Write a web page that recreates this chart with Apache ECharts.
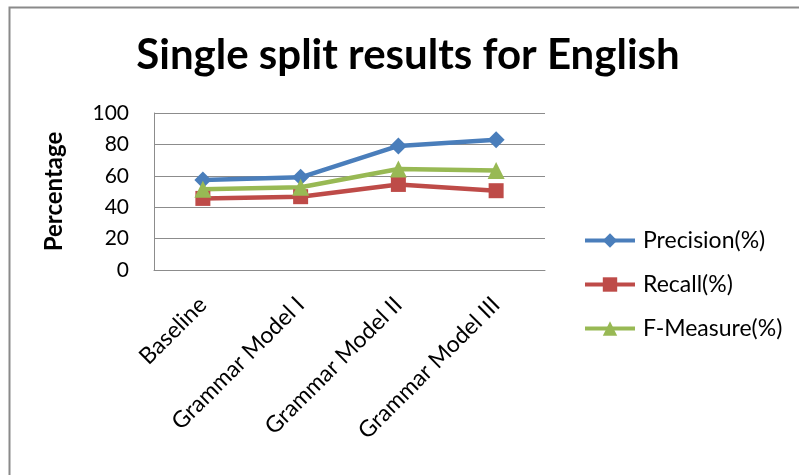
<!DOCTYPE html>
<html>
<head>
<meta charset="utf-8">
<script src="https://cdn.jsdelivr.net/npm/echarts@6/dist/echarts.min.js"></script>
<style>
  html, body { margin: 0; padding: 0; background: #fff; }
  #chart { width: 799px; height: 475px; }
</style>
</head>
<body>
<div id="chart"></div>
<script>
// Model variants on the x axis
const categories = ['Baseline', 'Grammar Model I', 'Grammar Model II', 'Grammar Model III'];

// Scores per model (%)
const precision = [57.3, 59, 79, 83];
const recall = [45.6, 46.7, 54.5, 50.5];
const fMeasure = [51.4, 52.7, 64.3, 63.4];

// Value axis ticks
const yMin = 0;
const yMax = 100;
const yStep = 20;

const FONT = 'Lato, "Open Sans", sans-serif';

const chart = echarts.init(document.getElementById('chart'), null, { renderer: 'canvas' });

function lineSeries(name, data, color, symbol, size) {
  return {
    name: name,
    type: 'line',
    data: data,
    symbol: symbol,
    symbolSize: size,
    lineStyle: { color: color, width: 4.5 },
    itemStyle: { color: color },
    emphasis: { disabled: true },
    animation: false
  };
}

chart.setOption({
  backgroundColor: '#ffffff',
  animation: false,
  title: {
    text: 'Single split results for English',
    left: 408,
    textAlign: 'center',
    top: 34,
    padding: 0,
    textStyle: { fontFamily: FONT, fontWeight: 'bold', fontSize: 42, color: '#000' }
  },
  legend: {
    orient: 'vertical',
    left: 583,
    top: 229,
    padding: 0,
    itemWidth: 50,
    itemHeight: 18,
    itemGap: 21,
    lineStyle: { width: 4 },
    textStyle: { fontFamily: FONT, fontSize: 23, color: '#000', padding: [0, 0, 0, 3] },
    data: ['Precision(%)', 'Recall(%)', 'F-Measure(%)']
  },
  grid: { left: 154, right: 254, top: 113, bottom: 205, containLabel: false },
  xAxis: {
    type: 'category',
    data: categories,
    boundaryGap: true,
    axisLine: { lineStyle: { color: '#8c8c8c', width: 1 } },
    axisTick: { show: false },
    axisLabel: {
      rotate: 45,
      margin: 31,
      interval: 0,
      fontFamily: FONT,
      fontSize: 23,
      color: '#000'
    }
  },
  yAxis: {
    type: 'value',
    min: yMin,
    max: yMax,
    interval: yStep,
    name: 'Percentage',
    nameLocation: 'middle',
    nameGap: 88,
    nameRotate: 90,
    nameTextStyle: { fontFamily: FONT, fontWeight: 'bold', fontSize: 24, color: '#000' },
    axisLine: { show: true, lineStyle: { color: '#8c8c8c', width: 1 } },
    axisTick: { show: false },
    splitLine: { lineStyle: { color: '#8c8c8c', width: 1 } },
    axisLabel: { margin: 25, fontFamily: FONT, fontSize: 21, color: '#000' }
  },
  series: [
    lineSeries('Precision(%)', precision, '#4A7EBB', 'diamond', 17),
    lineSeries('Recall(%)', recall, '#BE4B48', 'rect', 15),
    lineSeries('F-Measure(%)', fMeasure, '#98B954', 'triangle', 17)
  ],
  graphic: [{
    type: 'rect',
    shape: { x: 9.5, y: 7.5, width: 800, height: 480 },
    style: { fill: null, stroke: '#8a8a8a', lineWidth: 2 },
    silent: true
  }]
});
</script>
</body>
</html>
